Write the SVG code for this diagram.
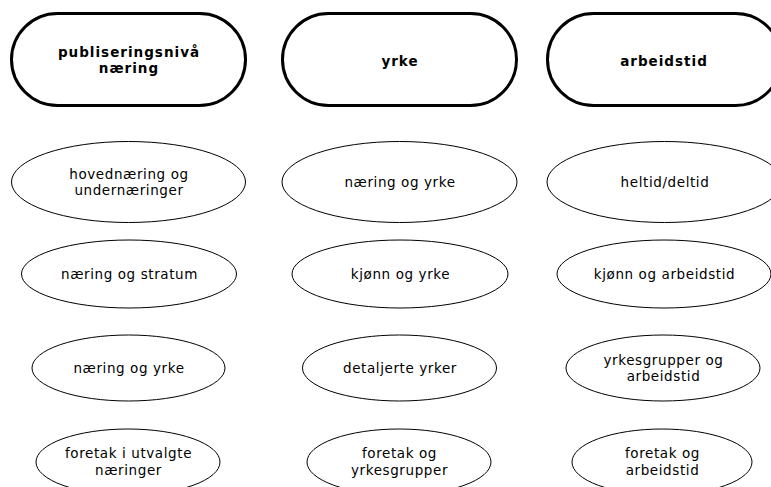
<svg xmlns="http://www.w3.org/2000/svg" width="771" height="487" viewBox="0 0 771 487">
  <style>
    .head { fill: #fff; stroke: #000; stroke-width: 3; }
    .item { fill: #fff; stroke: #000; stroke-width: 1; }
    text { font-family: "DejaVu Sans", Verdana, sans-serif; font-size: 13.5px; letter-spacing: 0.6px; fill: #000; text-anchor: middle; }
    .bold { font-weight: bold; letter-spacing: 1px; }
  </style>
  <rect width="771" height="487" fill="#fff"/>
  <g id="connectors"/>

  <!-- column headers -->
  <g id="h-publisering">
    <rect class="head" x="11.5" y="13.5" width="234" height="92" rx="46" ry="46"/>
    <text class="bold" x="129" y="57">publiseringsnivå</text>
    <text class="bold" x="129" y="73">næring</text>
  </g>
  <g id="h-yrke">
    <rect class="head" x="282.5" y="13.5" width="234" height="92" rx="46" ry="46"/>
    <text class="bold" x="400" y="66">yrke</text>
  </g>
  <g id="h-arbeidstid">
    <rect class="head" x="547.5" y="13.5" width="234" height="92" rx="46" ry="46"/>
    <text class="bold" x="664" y="66">arbeidstid</text>
  </g>

  <!-- column 1 -->
  <g id="n-hovednaering">
    <ellipse class="item" cx="128.5" cy="182" rx="117" ry="40.5"/>
    <text x="129" y="179">hovednæring og</text>
    <text x="129" y="195">undernæringer</text>
  </g>
  <g id="n-stratum">
    <ellipse class="item" cx="129" cy="274" rx="107.5" ry="34"/>
    <text x="129.5" y="279">næring og stratum</text>
  </g>
  <g id="n-naering-yrke">
    <ellipse class="item" cx="128.5" cy="368" rx="96.5" ry="33"/>
    <text x="129" y="373">næring og yrke</text>
  </g>
  <g id="n-foretak-naeringer">
    <ellipse class="item" cx="128" cy="462" rx="92" ry="33"/>
    <text x="128.5" y="458">foretak i utvalgte</text>
    <text x="128.5" y="475">næringer</text>
  </g>

  <!-- column 2 -->
  <g id="y-naering-yrke">
    <ellipse class="item" cx="399.5" cy="182" rx="117.5" ry="40.5"/>
    <text x="400" y="187">næring og yrke</text>
  </g>
  <g id="y-kjonn">
    <ellipse class="item" cx="400" cy="274" rx="108" ry="34"/>
    <text x="400.5" y="279">kjønn og yrke</text>
  </g>
  <g id="y-detaljerte">
    <ellipse class="item" cx="399.5" cy="368" rx="97" ry="33"/>
    <text x="400" y="373">detaljerte yrker</text>
  </g>
  <g id="y-foretak">
    <ellipse class="item" cx="399" cy="462" rx="92" ry="33"/>
    <text x="399.5" y="458">foretak og</text>
    <text x="399.5" y="475">yrkesgrupper</text>
  </g>

  <!-- column 3 -->
  <g id="a-heltid">
    <ellipse class="item" cx="664.5" cy="182" rx="117.5" ry="40.5"/>
    <text x="665" y="187">heltid/deltid</text>
  </g>
  <g id="a-kjonn">
    <ellipse class="item" cx="664" cy="274" rx="107" ry="34"/>
    <text x="664.5" y="279">kjønn og arbeidstid</text>
  </g>
  <g id="a-yrkesgrupper">
    <ellipse class="item" cx="663" cy="368" rx="97" ry="33"/>
    <text x="663.5" y="365">yrkesgrupper og</text>
    <text x="663.5" y="381">arbeidstid</text>
  </g>
  <g id="a-foretak">
    <ellipse class="item" cx="662" cy="462" rx="90" ry="33"/>
    <text x="662.5" y="458">foretak og</text>
    <text x="662.5" y="475">arbeidstid</text>
  </g>
</svg>
